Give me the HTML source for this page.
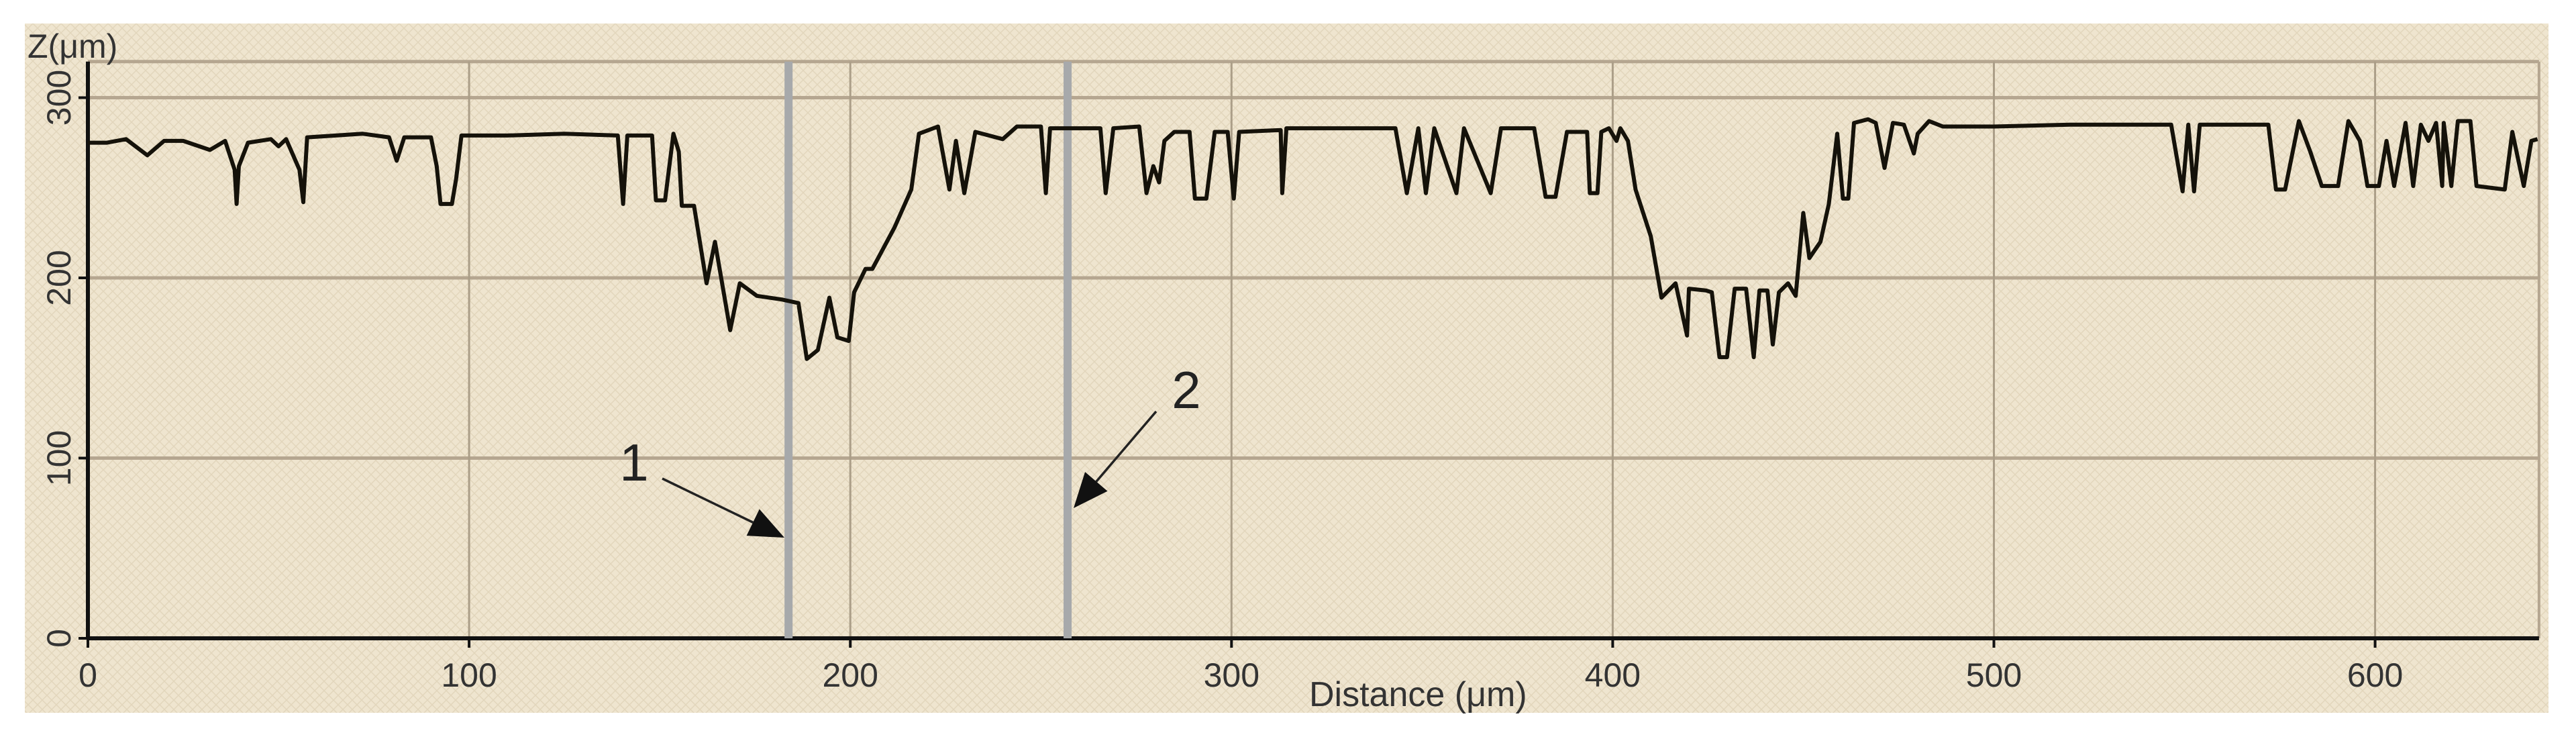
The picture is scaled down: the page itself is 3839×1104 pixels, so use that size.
<!DOCTYPE html>
<html><head><meta charset="utf-8"><style>
html,body{margin:0;padding:0;background:#fff;}
svg{display:block;font-family:"Liberation Sans",sans-serif;}
</style></head><body>
<svg id="chart" width="3839" height="1104" viewBox="0 0 3839 1104" xmlns="http://www.w3.org/2000/svg">
<defs>
<pattern id="hatch" width="14" height="14" patternUnits="userSpaceOnUse">
<rect width="14" height="14" fill="#efe5cf"/>
<path d="M0 0L14 14M14 0L0 14" stroke="#e2d6bc" stroke-width="1.5"/>
</pattern>
</defs>
<rect x="37" y="35" width="3761" height="1027" fill="url(#hatch)"/>
<g id="grid"></g>
<g id="axes"></g>
<g id="markers"></g>
<path id="profile" fill="none" stroke="#15120a" stroke-width="6" stroke-linejoin="round"/>
<g id="annot"></g>
<text x="41" y="86" font-size="50" fill="#333">Z(μm)</text>
<text x="1951" y="1052" font-size="52" fill="#333">Distance (μm)</text>
</svg>
<script>
const xTicks = [0,100,200,300,400,500,600];
const yTicks = [0,100,200,300];
const markerPositions = [183.8, 257];
const markerLabels = ["1","2"];
const xs = [0,5,10,15.6,20,25,32,36,38.5,39,39.6,42,48,50,52,55.5,56.5,57.5,65,72,79,81,83,90,91.5,92.5,95.5,96.6,98,110,125,139,140.4,141.5,148,149,151.4,153.6,155,155.8,159,162.3,164.5,168.5,171,175.5,182,186.4,188.6,191.5,194.5,196.6,199.6,201,204,205.8,211.6,216,218,223,226,227.7,229.9,232.8,240,243.7,250,251.3,252.4,265.6,267,269,275.8,277.7,279.5,281,282.4,285,289,290.4,293.4,295.6,299,300.6,302,312.9,313.3,314.4,343,346,349,351,353.2,359,361,368,370.7,379.4,382.4,385,388,393.3,394,396,397,399,401,402,404,406,410,412.8,416.5,419.5,420,424.5,426,428,430,432,435,437,438.5,440.6,442,443.6,446,448,450,451.6,454.5,456.7,458.9,460.4,461.8,463.3,467,469,471.3,473.5,476.4,479,480,483,486.6,500,520,546.5,549.5,551,552.5,554,572,574,576.4,580,583,586,590.3,593,596,598,601,603,605,608,610,612,614,616,617.6,618,620,621.7,625,626.6,634,636,639,641,642.6];
const zs = [275,275,277,268,276,276,271,276,260,241,262,275,277,273,277,260,242,278,279,280,278,265,278,278,262,241,241,255,279,279,280,279,241,279,279,243,243,280,270,240,240,197,220,171,197,190,188,186,155,160,189,167,165,192,205,205,228,249,280,284,249,276,247,281,277,284,284,247,283,283,247,283,284,247,262,253,276,281,281,244,244,281,281,244,281,282,247,283,283,247,283,247,283,247,283,247,283,283,245,245,281,281,247,247,281,283,276,283,276,249,223,189,197,168,194,193,192,156,156,194,194,156,193,193,163,192,197,190,236,211,220,241,280,244,244,286,288,286,261,286,285,269,280,287,284,284,285,285,248,285,248,285,285,249,249,287,270,251,251,287,276,251,251,276,251,286,251,285,276,286,251,286,251,287,287,251,249,281,251,276,277];
const X0=131, XS=5.681, Y0=951, YS=2.685;
const sx = v => X0 + v*XS;
const sy = v => Y0 - v*YS;
const NS="http://www.w3.org/2000/svg";
function mk(tag, attrs, parent){const e=document.createElementNS(NS,tag);for(const k in attrs)e.setAttribute(k,attrs[k]);parent.appendChild(e);return e;}
const grid=document.getElementById('grid'), axes=document.getElementById('axes'), markers=document.getElementById('markers'), annot=document.getElementById('annot');
const gc="#b5a690";
let fr=mk('line',{x1:X0,y1:sy(320),x2:sx(643),y2:sy(320),stroke:gc,'stroke-width':5},grid);


let fr2=mk('line',{x1:sx(643),y1:sy(320),x2:sx(643),y2:Y0,stroke:gc,'stroke-width':4},grid);


yTicks.forEach(t=>{
  if(t>0){const l=mk('line',{x1:X0,y1:sy(t),x2:sx(643),y2:sy(t),stroke:gc,'stroke-width':5},grid);
  
  }
  const tk=mk('line',{x1:X0-14,y1:sy(t),x2:X0,y2:sy(t),stroke:'#111','stroke-width':4},axes);
  
  
  const tx=mk('text',{x:0,y:0,'font-size':50,fill:'#333','text-anchor':'middle',transform:`translate(105,${sy(t)}) rotate(-90)`},axes);
  tx.textContent=t;
  
  
});
xTicks.forEach(t=>{
  if(t>0){const l=mk('line',{x1:sx(t),y1:sy(320),x2:sx(t),y2:Y0,stroke:'#ab9e88','stroke-width':3},grid);
  
  }
  const tk=mk('line',{x1:sx(t),y1:Y0,x2:sx(t),y2:Y0+14,stroke:'#111','stroke-width':4},axes);
  
  
  const tx=mk('text',{x:sx(t),y:1023,'font-size':50,fill:'#333','text-anchor':'middle'},axes);
  tx.textContent=t;
  
  
});
const ya=mk('line',{x1:X0,y1:sy(320),x2:X0,y2:Y0+2,stroke:'#111','stroke-width':6},axes);


const xa=mk('line',{x1:X0-2,y1:Y0,x2:sx(643),y2:Y0,stroke:'#111','stroke-width':6},axes);


markerPositions.forEach((m,i)=>{
  const l=mk('line',{x1:sx(m),y1:sy(320),x2:sx(m),y2:Y0,stroke:'#a7a9ab','stroke-width':12},markers);
  
  
});
let d='';
xs.forEach((x,i)=>{d+=(i?'L':'M')+sx(x).toFixed(1)+' '+sy(zs[i]).toFixed(1);});
document.getElementById('profile').setAttribute('d',d);
function arrow(x1,y1,x2,y2,name){
  const g=mk('g',{},annot);
  
  
  const a=Math.atan2(y2-y1,x2-x1), L=52, W=22;
  const bx=x2-L*Math.cos(a), by=y2-L*Math.sin(a);
  mk('line',{x1:x1,y1:y1,x2:bx,y2:by,stroke:'#222','stroke-width':3.5},g);
  const p1=[bx+W*Math.sin(a),by-W*Math.cos(a)], p2=[bx-W*Math.sin(a),by+W*Math.cos(a)];
  mk('polygon',{points:`${x2},${y2} ${p1} ${p2}`,fill:'#111'},g);
}
arrow(987,713,1169,801,'arrow-1');
arrow(1723,613,1600,757,'arrow-2');
const t1=mk('text',{x:945,y:716,'font-size':78,fill:'#222','text-anchor':'middle'},annot);
t1.textContent='1';


const t2=mk('text',{x:1768,y:608,'font-size':78,fill:'#222','text-anchor':'middle'},annot);
t2.textContent='2';


</script>
</body></html>
